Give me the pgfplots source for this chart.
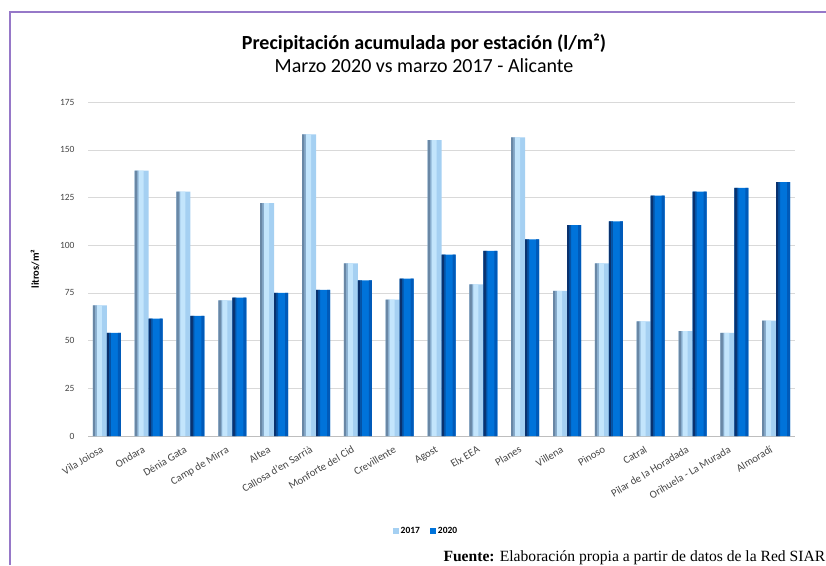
\documentclass[border=0pt]{standalone}
\usepackage{fontspec}
\setmainfont{Carlito}
\newfontfamily\srcfont{Liberation Serif}
\usepackage{pgfplots}
\pgfplotsset{compat=1.18}
\definecolor{gridc}{RGB}{217,217,217}
\definecolor{framec}{RGB}{150,120,200}
\definecolor{lA}{RGB}{105,135,165}
\definecolor{lB}{RGB}{195,229,252}
\definecolor{lC}{RGB}{165,208,242}
\definecolor{dA}{RGB}{10,50,110}
\definecolor{dB}{RGB}{0,115,218}
\definecolor{dC}{RGB}{0,90,185}
\definecolor{tickc}{RGB}{70,70,70}
\pgfplotstableread{
x a b
0 68.5 54
1 139 61.5
2 128 63
3 71 72.5
4 122 75
5 158 76.5
6 90.5 81.5
7 71.5 82.5
8 155 95
9 79.5 97
10 156.5 103
11 76 110.5
12 90.5 112.5
13 60 126
14 55 128
15 54 130
16 60.5 133
}\datatable
\begin{document}
\begin{tikzpicture}
\path[use as bounding box] (0pt,0pt) rectangle (826pt,565pt);
\draw[framec, line width=1.5pt] (10pt,0pt) -- (10pt,553pt) -- (826pt,553pt);
\node[font=\bfseries\fontsize{20}{24}\selectfont] at (424pt,522pt) {Precipitación acumulada por estación (l/m²)};
\node[font=\fontsize{20}{24}\selectfont] at (424pt,499pt) {Marzo 2020 vs marzo 2017 - Alicante};
\begin{axis}[
  at={(88pt,129pt)}, anchor=south west, scale only axis,
  width=707pt, height=334pt,
  ybar, bar width=14pt,
  ymin=0, ymax=175, ytick={0,25,...,175},
  xmin=-0.45, xmax=16.45,
  xtick={0,...,16},
  xticklabels={Vila Joiosa,Ondara,Dénia Gata,Camp de Mirra,Altea,Callosa d'en Sarrià,Monforte del Cid,Crevillente,Agost,Elx EEA,Planes,Villena,Pinoso,Catral,Pilar de la Horadada,Orihuela - La Murada,Almoradí},
  axis lines*=left,
  y axis line style={draw=none},
  x axis line style={draw={rgb,255:red,190;green,190;blue,190}},
  major tick length=0pt,
  ymajorgrids, grid style={gridc},
  yticklabel style={font=\fontsize{9.5}{11}\selectfont, color=tickc, xshift=-10pt},
  xticklabel style={rotate=31, anchor=north east, font=\fontsize{10.8}{12}\selectfont, color=tickc, xshift=-7pt, yshift=-1pt},
  /pgf/number format/assume math mode=true,
  ylabel={litros/m²},
  ylabel style={at={(axis description cs:-0.075,0.5)}, anchor=center, font=\bfseries\fontsize{10.5}{12}\selectfont},
  legend style={at={(0.478,-0.284)}, anchor=center, draw=none, font=\bfseries\fontsize{9.5}{11}\selectfont, legend columns=2,
    /tikz/every even column/.append style={column sep=8pt}},
]
% 2017 series
\addplot[draw=none, fill=lC, bar width=14pt, bar shift=-7pt,
  legend image code/.code={\fill[lC] (0pt,-3pt) rectangle (6pt,3pt);}]
  table[x=x,y=a] {\datatable};
% 2020 series
\addplot[draw=none, fill=dB, bar width=14pt, bar shift=7pt,
  legend image code/.code={\fill[dB] (0pt,-3pt) rectangle (6pt,3pt);}]
  table[x=x,y=b] {\datatable};
\legend{2017,2020}
% shading strips (same data)
\addplot[forget plot, draw=none, fill=lA, bar width=2.5pt, bar shift=-12.75pt] table[x=x,y=a] {\datatable};
\addplot[forget plot, draw=none, fill=lA!50!lC, bar width=1.5pt, bar shift=-10.75pt] table[x=x,y=a] {\datatable};
\addplot[forget plot, draw=none, fill=lB, bar width=5pt, bar shift=-7.5pt] table[x=x,y=a] {\datatable};
\addplot[forget plot, draw=none, fill=dA, bar width=2.5pt, bar shift=1.25pt] table[x=x,y=b] {\datatable};
\addplot[forget plot, draw=none, fill=dA!50!dB, bar width=1.5pt, bar shift=3.25pt] table[x=x,y=b] {\datatable};
\addplot[forget plot, draw=none, fill=dC, bar width=3pt, bar shift=12.5pt] table[x=x,y=b] {\datatable};
\end{axis}
\node[anchor=base west, font=\srcfont\fontsize{15.6}{18}\selectfont] at (440pt,4pt) {\textbf{Fuente:} Elaboración propia a partir de datos de la Red SIAR};
\end{tikzpicture}
\end{document}
